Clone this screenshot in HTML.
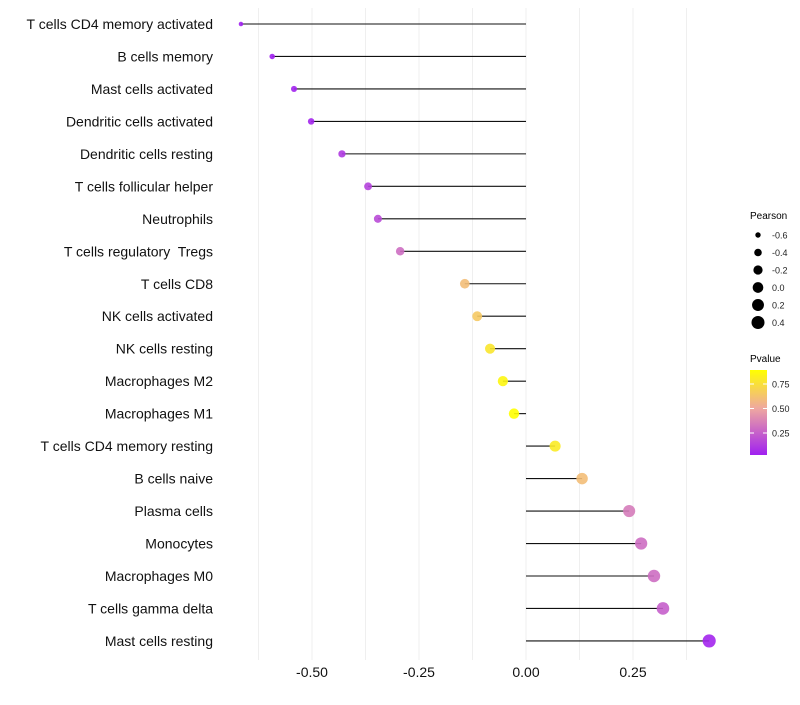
<!DOCTYPE html>
<html><head><meta charset="utf-8"><style>
body{margin:0;background:#fff;font-family:"Liberation Sans",sans-serif}
svg text{font-family:"Liberation Sans",sans-serif;white-space:pre}
</style></head><body>
<svg id="c" width="800" height="700">
<defs><linearGradient id="pg" x1="0" y1="1" x2="0" y2="0">
<stop offset="0" stop-color="#A020F0"/><stop offset="0.55" stop-color="#EFA8A0"/><stop offset="1" stop-color="#FFFF00"/></linearGradient></defs>
<g id="grid"></g>
<g id="marks"></g>
<g id="ylab"></g>
<g id="xlab"></g>
<g id="lp">
<text x="750" y="219" font-size="10">Pearson</text>
</g>
<g>
<text x="750" y="362" font-size="10">Pvalue</text>
<rect x="750" y="370" width="17" height="85" fill="url(#pg)"/>
<g id="lpv"></g>
</g>
</svg>
<script>
const categories=["T cells CD4 memory activated","B cells memory","Mast cells activated","Dendritic cells activated","Dendritic cells resting","T cells follicular helper","Neutrophils","T cells regulatory  Tregs","T cells CD8","NK cells activated","NK cells resting","Macrophages M2","Macrophages M1","T cells CD4 memory resting","B cells naive","Plasma cells","Monocytes","Macrophages M0","T cells gamma delta","Mast cells resting"];
const pearson=[-0.666,-0.593,-0.542,-0.502,-0.430,-0.369,-0.346,-0.294,-0.143,-0.114,-0.084,-0.054,-0.028,0.068,0.131,0.241,0.269,0.299,0.320,0.428];
const pvalue=[0.02,0.03,0.04,0.05,0.12,0.15,0.18,0.3,0.6,0.65,0.78,0.85,0.9,0.8,0.6,0.35,0.3,0.3,0.25,0.05];
const xTicks=[-0.5,-0.25,0,0.25];
const xTickLabels=["-0.50","-0.25","0.00","0.25"];
const sizeLegend=[-0.6,-0.4,-0.2,0.0,0.2,0.4];
const sizeLegendLabels=["-0.6","-0.4","-0.2","0.0","0.2","0.4"];
const pTicks=[0.25,0.5,0.75];
const pTickLabels=["0.25","0.50","0.75"];
const NS="http://www.w3.org/2000/svg";
const X=v=>526+v*428;
const Y=i=>24+i*32.47;
const R=v=>Math.sqrt(Math.max(2,28.3+35*v));
const PY=p=>433-(p-0.25)*98;
function mix(a,b,t){return a.map((x,i)=>Math.round(x+(b[i]-x)*t));}
function col(p){const a=[160,32,240],m=[239,168,160],y=[255,255,0];const t=Math.max(0,Math.min(1,(p-0.03)/0.86));const c=t<0.55?mix(a,m,t/0.55):mix(m,y,(t-0.55)/0.45);return `rgb(${c})`;}
function mk(tag,attrs,parent){const e=document.createElementNS(NS,tag);for(const k in attrs)e.setAttribute(k,attrs[k]);parent.appendChild(e);return e;}
const grid=document.getElementById('grid');
for(let v=-0.625;v<=0.45;v+=0.125){
 const g=mk('line',{x1:X(v),x2:X(v),y1:8,y2:660,stroke:'#efefef','stroke-width':1},grid);
 
 
}
const marks=document.getElementById('marks'),ylab=document.getElementById('ylab');
categories.forEach((c,i)=>{
 const l=mk('line',{x1:X(0),x2:X(pearson[i]),y1:Y(i),y2:Y(i),stroke:'#111','stroke-width':1.1},marks);
 
 
 const d=mk('circle',{cx:X(pearson[i]),cy:Y(i),r:R(pearson[i]),fill:col(pvalue[i]),'fill-opacity':0.9},marks);
 
 
 const t=mk('text',{x:213,y:Y(i)+5,'text-anchor':'end','font-size':14,fill:'#111'},ylab);
 t.textContent=c;
 
 
});
const xlab=document.getElementById('xlab');
xTicks.forEach((v,i)=>{
 const t=mk('text',{x:X(v),y:677,'text-anchor':'middle','font-size':14,fill:'#111'},xlab);
 t.textContent=xTickLabels[i];
 
 
});
const lp=document.getElementById('lp');
sizeLegend.forEach((v,i)=>{
 const y=235+i*17.5;
 const d=mk('circle',{cx:758,cy:y,r:R(v),fill:'#000'},lp);
 
 
 const t=mk('text',{x:772,y:y+3.5,'font-size':9,fill:'#222'},lp);
 t.textContent=sizeLegendLabels[i];
 
 
});
const lpv=document.getElementById('lpv');
pTicks.forEach((p,i)=>{
 const t=mk('text',{x:772,y:PY(p)+3.5,'font-size':9,fill:'#222'},lpv);
 t.textContent=pTickLabels[i];
 
 
 mk('line',{x1:750,x2:754,y1:PY(p),y2:PY(p),stroke:'#fff'},lpv);
 mk('line',{x1:763,x2:767,y1:PY(p),y2:PY(p),stroke:'#fff'},lpv);
});
</script>
</body></html>
